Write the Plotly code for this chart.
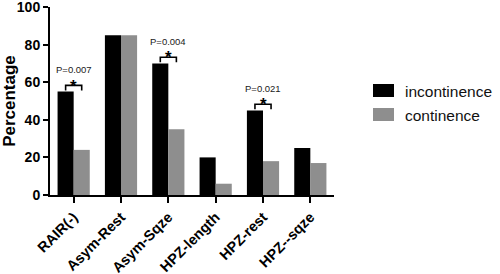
import plotly.graph_objects as go

categories = ["RAIR(-)", "Asym-Rest", "Asym-Sqze", "HPZ-length", "HPZ-rest", "HPZ--sqze"]
incontinence = [55, 85, 70, 20, 45, 25]
continence = [24, 85, 35, 6, 18, 17]
y_ticks = [0, 20, 40, 60, 80, 100]
sig_index = [0, 2, 4]
sig_labels = ["P=0.007", "P=0.004", "P=0.021"]

FONT = "Liberation Sans, Arial, sans-serif"
BLACK = "#000000"
GREY = "#8e8e8e"

TOP = 7
BOT = 195
H = BOT - TOP

fig = go.Figure()
fig.add_trace(go.Bar(x=categories, y=incontinence, name="incontinence",
                     marker=dict(color=BLACK, line=dict(width=0)), showlegend=False))
fig.add_trace(go.Bar(x=categories, y=continence, name="continence",
                     marker=dict(color=GREY, line=dict(width=0)), showlegend=False))

shapes = []
annotations = []
off = 0.17
for i, lab in zip(sig_index, sig_labels):
    v = max(incontinence[i], continence[i])
    shapes.append(dict(type="path", xref="x", yref="y",
                       path=f"M {i-off},{v+0.6} L {i-off},{v+3.3} L {i+off},{v+3.3} L {i+off},{v+0.6}",
                       line=dict(color=BLACK, width=1.6)))
    annotations.append(dict(x=i, y=v, xref="x", yref="y", text="*", showarrow=False,
                            yanchor="middle", yshift=5.5,
                            font=dict(family=FONT, size=17, color=BLACK, weight="bold")))
    annotations.append(dict(x=i, y=v, xref="x", yref="y", text=lab, showarrow=False,
                            yanchor="middle", yshift=22,
                            font=dict(family=FONT, size=9.5, color="#1a1a1a")))

# legend drawn in paper pixels
legend_items = [("incontinence", BLACK), ("continence", GREY)]
for k, (name, col) in enumerate(legend_items):
    y0 = 84 + k * 24
    shapes.append(dict(type="rect", xref="paper", yref="paper",
                       x0=(373 - 50) / 284, x1=(394 - 50) / 284,
                       y0=(BOT - (y0 + 13)) / H, y1=(BOT - y0) / H,
                       fillcolor=col, line=dict(width=0)))
    annotations.append(dict(x=(403 - 50) / 284, y=(BOT - (y0 + 7)) / H,
                            xref="paper", yref="paper", text=name, showarrow=False,
                            xanchor="left", yanchor="middle",
                            font=dict(family=FONT, size=15.5, color="#111111")))

fig.update_layout(
    width=500, height=274,
    margin=dict(l=50, r=166, t=TOP, b=274 - BOT, autoexpand=False),
    paper_bgcolor="white", plot_bgcolor="white",
    barmode="group", bargap=0.32, bargroupgap=0,
    shapes=shapes, annotations=annotations,
    font=dict(family=FONT, color=BLACK),
)
fig.update_xaxes(range=[-0.5, 5.5], showline=True, linecolor=BLACK, linewidth=2,
                 ticks="outside", ticklen=6, tickwidth=2, tickcolor=BLACK,
                 tickangle=-45, showgrid=False, zeroline=False, automargin=False,
                 ticklabeloverflow="allow",
                 tickfont=dict(family=FONT, size=14.5, color=BLACK, weight="bold"))
fig.update_yaxes(range=[0, 100], tickvals=y_ticks, showline=True, linecolor=BLACK, linewidth=2,
                 ticks="outside", ticklen=5, tickwidth=2, tickcolor=BLACK,
                 showgrid=False, zeroline=False, automargin=False,
                 ticklabeloverflow="allow",
                 tickfont=dict(family=FONT, size=14, color=BLACK, weight="bold"),
                 title=dict(text="Percentage",
                            font=dict(family=FONT, size=17, color=BLACK, weight="bold")))

fig.write_html("out.html", config={"displayModeBar": False},
               post_script="document.body.style.margin='0';document.body.style.overflow='hidden';")
